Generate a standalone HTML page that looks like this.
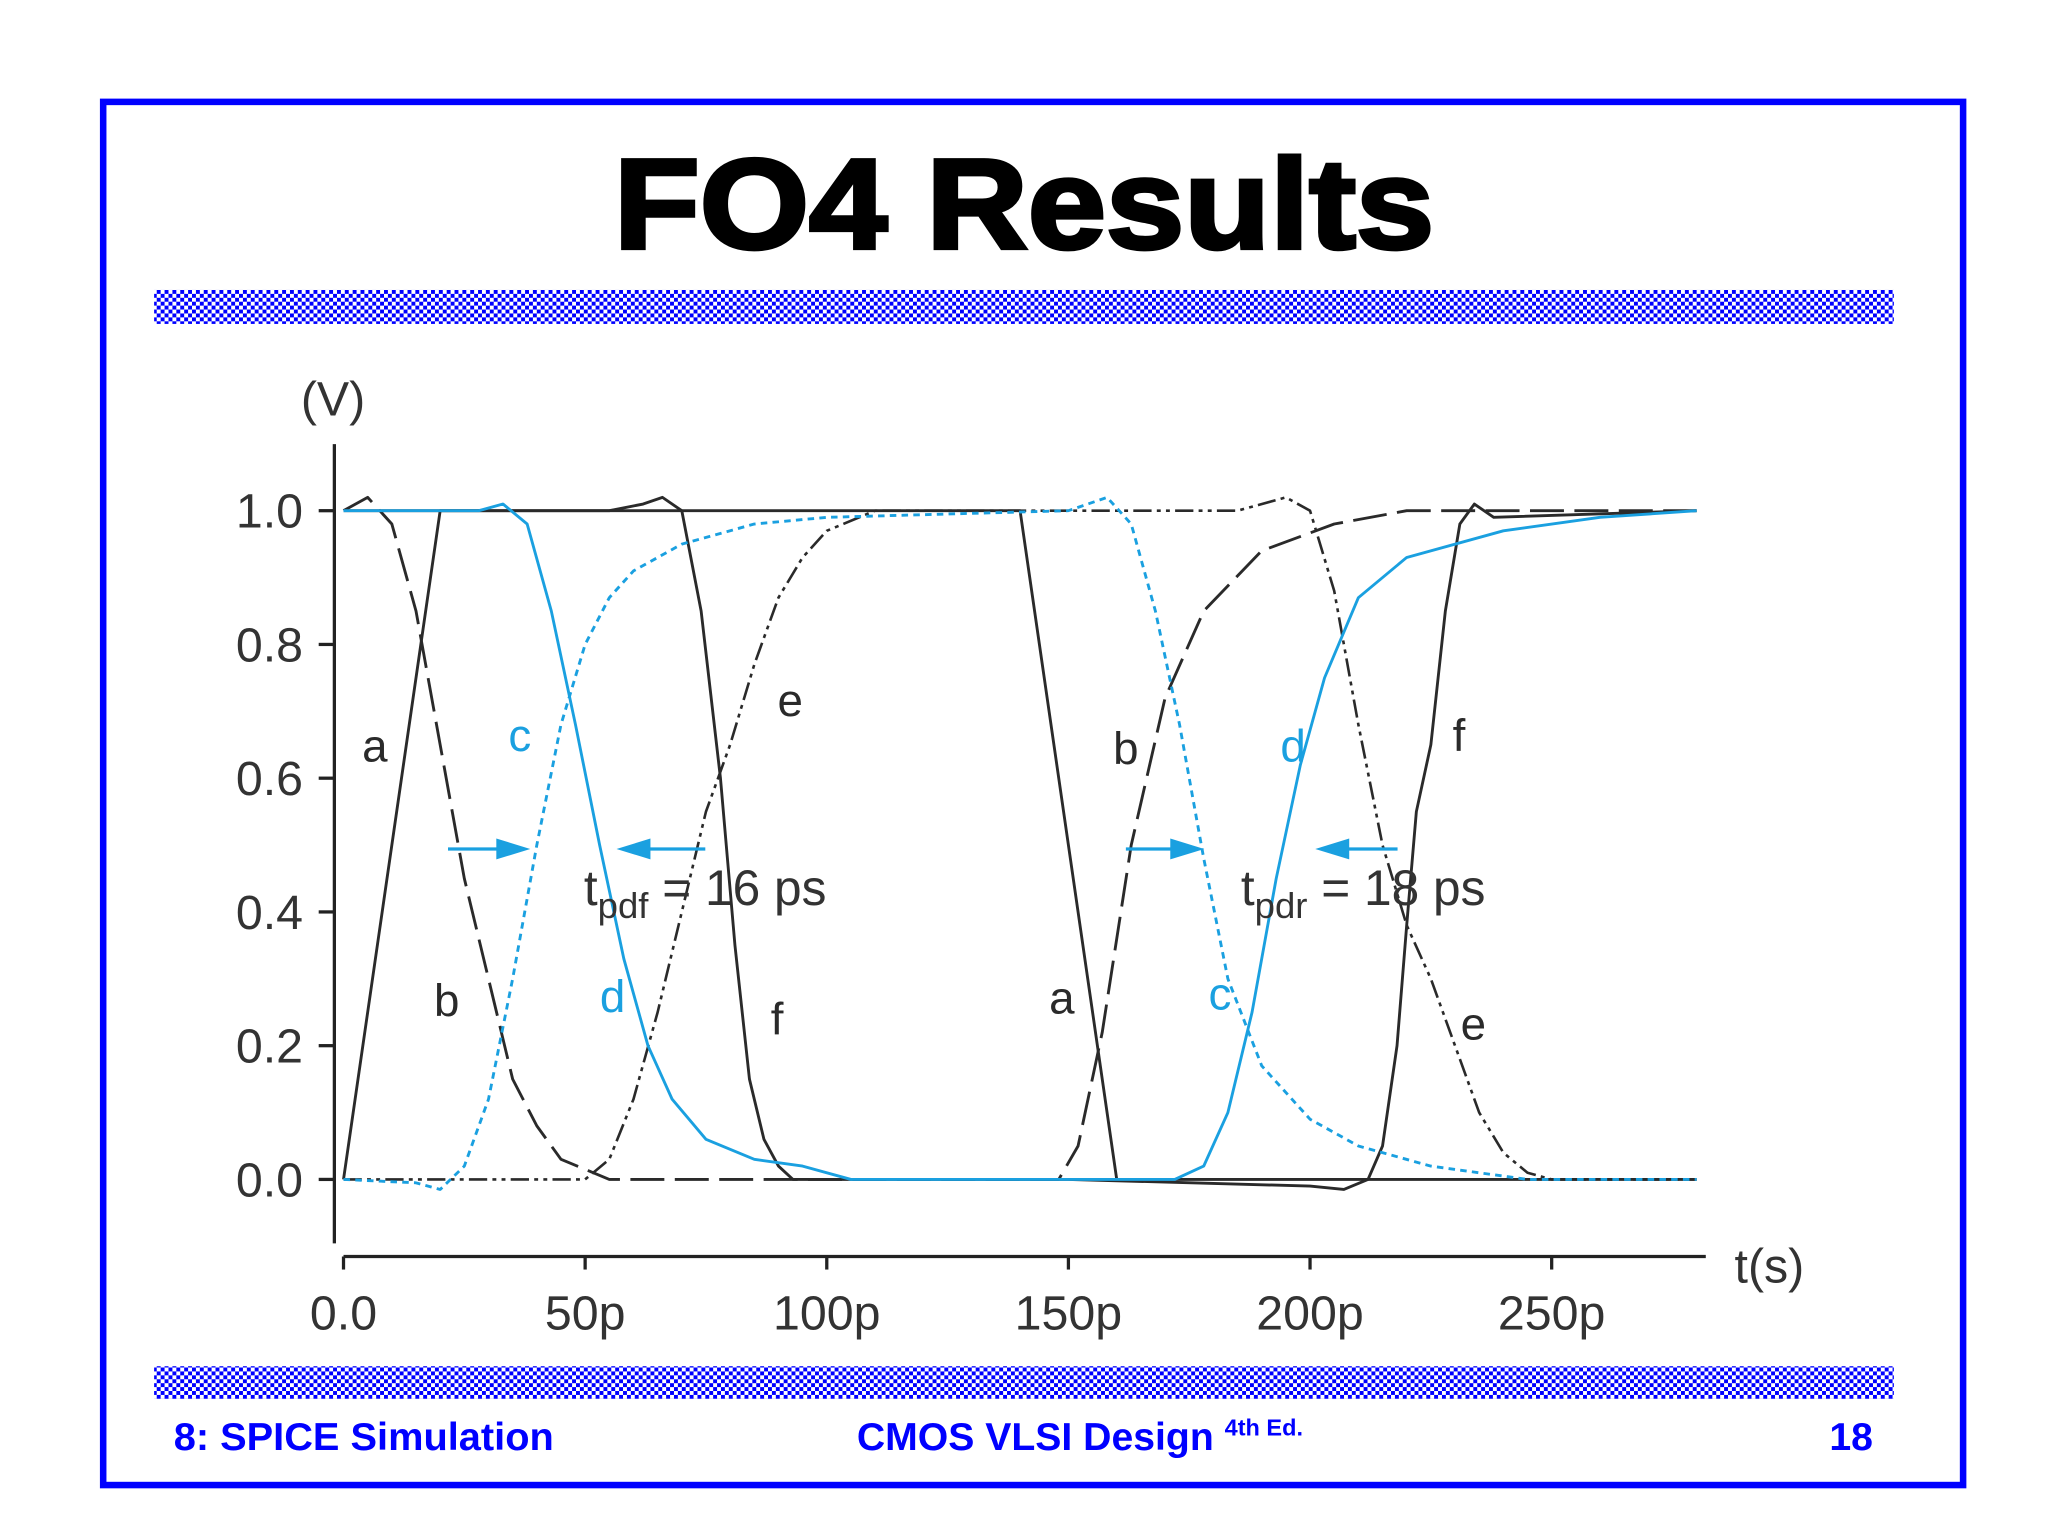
<!DOCTYPE html>
<html><head><meta charset="utf-8"><style>
html,body{margin:0;padding:0;background:#fff;}
svg{display:block;}
</style></head><body>
<svg id="slide" width="2048" height="1536" viewBox="0 0 1568 1176" xmlns="http://www.w3.org/2000/svg">
<defs>
<pattern id="chk" width="6" height="6" patternUnits="userSpaceOnUse">
<rect width="6" height="6" fill="#fff"/>
<rect width="3" height="3" fill="#0000ff"/>
<rect x="3" y="3" width="3" height="3" fill="#0000ff"/>
</pattern>
</defs>
<rect x="0" y="0" width="1568" height="1176" fill="#fff"/>
<rect x="79" y="78" width="1424" height="1059" fill="none" stroke="#0000ff" stroke-width="5"/>
<text x="470" y="190" textLength="628" lengthAdjust="spacingAndGlyphs" font-family="Liberation Sans, sans-serif" font-weight="bold" font-size="98" stroke="#000" stroke-width="3">FO4 Results</text>
<rect x="118" y="222" width="1332" height="26" fill="url(#chk)"/>
<rect x="118" y="1046" width="1332" height="25" fill="url(#chk)"/>
<g font-family="Liberation Sans, sans-serif" font-weight="bold" font-size="30" fill="#0000ff">
<text x="133" y="1110" textLength="291" lengthAdjust="spacingAndGlyphs">8: SPICE Simulation</text>
<text x="656" y="1110">CMOS VLSI Design <tspan font-size="18" dy="-11">4th Ed.</tspan></text>
<text x="1434" y="1110" text-anchor="end">18</text>
</g>
<g id="chart"></g>
</svg>
<script>
const xTicks=[0,50,100,150,200,250];
const xTickLabels=["0.0","50p","100p","150p","200p","250p"];
const yTicks=[0,0.2,0.4,0.6,0.8,1.0];
const yTickLabels=["0.0","0.2","0.4","0.6","0.8","1.0"];
const aT=[0,20,140,160,280];
const aV=[0,1,1,0,0];
const bT=[0,5,10,15,20,25,30,35,40,45,55,100,148,152,157,163,170,178,190,205,220,280];
const bV=[1,1.02,0.98,0.85,0.65,0.45,0.3,0.15,0.08,0.03,0,0,0,0.05,0.22,0.5,0.72,0.85,0.94,0.98,1,1];
const cT=[0,28,33,38,43,48,53,58,63,68,75,85,95,105,150,172,178,183,188,193,198,203,210,220,240,260,280];
const cV=[1,1,1.01,0.98,0.85,0.68,0.5,0.33,0.2,0.12,0.06,0.03,0.02,0,0,0,0.02,0.1,0.25,0.45,0.62,0.75,0.87,0.93,0.97,0.99,1];
const dT=[0,15,20,25,30,35,40,45,50,55,60,70,85,100,150,158,163,168,173,178,183,190,200,210,225,245,280];
const dV=[0,-0.005,-0.015,0.02,0.12,0.3,0.5,0.68,0.8,0.87,0.91,0.95,0.98,0.99,1,1.02,0.98,0.85,0.68,0.48,0.3,0.17,0.09,0.05,0.02,0,0];
const eT=[0,45,50,55,60,65,70,75,80,85,90,95,100,110,185,195,200,205,210,215,220,225,230,235,240,245,250,280];
const eV=[0,0,0,0.03,0.12,0.25,0.4,0.55,0.65,0.77,0.87,0.93,0.97,1,1,1.02,1,0.88,0.68,0.5,0.38,0.3,0.2,0.1,0.04,0.01,0,0];
const fT=[0,55,62,66,70,74,78,81,84,87,90,93,100,150,200,207,212,215,218,220,222,225,228,231,234,238,280];
const fV=[1,1,1.01,1.02,1,0.85,0.6,0.35,0.15,0.06,0.02,0,0,0,-0.01,-0.015,0,0.05,0.2,0.38,0.55,0.65,0.85,0.98,1.01,0.99,1];

const X0=263, XS=3.7, Y0=903, YS=512;
const xs=t=>X0+t*XS;
const ys=v=>Y0-v*YS;
const NS="http://www.w3.org/2000/svg";
const g=document.getElementById('chart');
function mk(tag,attrs,txt){const e=document.createElementNS(NS,tag);for(const k in attrs)e.setAttribute(k,attrs[k]);if(txt!==undefined)e.textContent=txt;g.appendChild(e);return e;}
const FONT="Liberation Sans, sans-serif";

let el=mk('line',{x1:256,y1:340,x2:256,y2:952,stroke:'#222','stroke-width':2.5});


el=mk('line',{x1:263,y1:962,x2:1306,y2:962,stroke:'#222','stroke-width':2.5});


xTicks.forEach((t,i)=>{
 let l=mk('line',{x1:xs(t),y1:962,x2:xs(t),y2:972,stroke:'#222','stroke-width':2.5});
 
 
 let tx=mk('text',{x:xs(t),y:1018,'text-anchor':'middle','font-family':FONT,'font-size':37,fill:'#333'},xTickLabels[i]);
 
 
});
yTicks.forEach((v,i)=>{
 let l=mk('line',{x1:244,y1:ys(v),x2:256,y2:ys(v),stroke:'#222','stroke-width':2.5});
 
 
 let tx=mk('text',{x:232,y:ys(v)+13,'text-anchor':'end','font-family':FONT,'font-size':37,fill:'#333'},yTickLabels[i]);
 
 
});
el=mk('text',{x:255,y:318,'text-anchor':'middle','font-family':FONT,'font-size':37,fill:'#333'},'(V)');


el=mk('text',{x:1328,y:982,'font-family':FONT,'font-size':37,fill:'#333'},'t(s)');



function series(T,V,name,color,dash,w){
 const d=T.map((t,i)=>(i?'L':'M')+xs(t).toFixed(1)+' '+ys(V[i]).toFixed(1)).join(' ');
 const p=mk('path',{d:d,fill:'none',stroke:color,'stroke-width':w,'stroke-dasharray':dash,'stroke-linejoin':'round'});
 
 
}
const BL='#2a2a2a', BU='#1aa0e0';
series(aT,aV,'series-a',BL,'none',2.2);
series(bT,bV,'series-b',BL,'26 8',2.2);
series(eT,eV,'series-e',BL,'14 4 3 4 3 4',2);
series(fT,fV,'series-f',BL,'none',2.2);
series(cT,cV,'series-c',BU,'none',2.2);
series(dT,dV,'series-d',BU,'5 4',2.2);

const labels=[["a",287,583,BL],["b",342,778,BL],["c",398,575,BU],["d",469,775,BU],["e",605,548,BL],["f",595,792,BL],
["b",862,585,BL],["a",813,776,BL],["c",934,773,BU],["d",990,583,BU],["f",1117,575,BL],["e",1128,796,BL]];
labels.forEach(L=>{
 const t=mk('text',{x:L[1],y:L[2],'text-anchor':'middle','font-family':FONT,'font-size':35,fill:L[3]},L[0]);
 
 
});
function arrow(x1,x2,name){
 const y=650, dir=x2>x1?1:-1;
 const l=mk('line',{x1:x1,y1:y,x2:x2-dir*14,y2:y,stroke:BU,'stroke-width':2.5});
 
 
 const h=mk('polygon',{points:`${x2},${y} ${x2-dir*26},${y-8} ${x2-dir*26},${y+8}`,fill:BU});
 
 
}
arrow(343,406,'tpdf-arrow-left');
arrow(540,472,'tpdf-arrow-right');
arrow(862,922,'tpdr-arrow-left');
arrow(1070,1007,'tpdr-arrow-right');
function ann(x,sub,rest,name){
 const t=mk('text',{x:x,y:693,'font-family':FONT,'font-size':38,fill:'#333'});
 
 
 t.innerHTML=`t<tspan font-size="28" dy="10">${sub}</tspan><tspan dy="-10"> = ${rest}</tspan>`;
}
ann(447,'pdf','16 ps','tpdf-annotation');
ann(950,'pdr','18 ps','tpdr-annotation');
</script>
</body></html>
